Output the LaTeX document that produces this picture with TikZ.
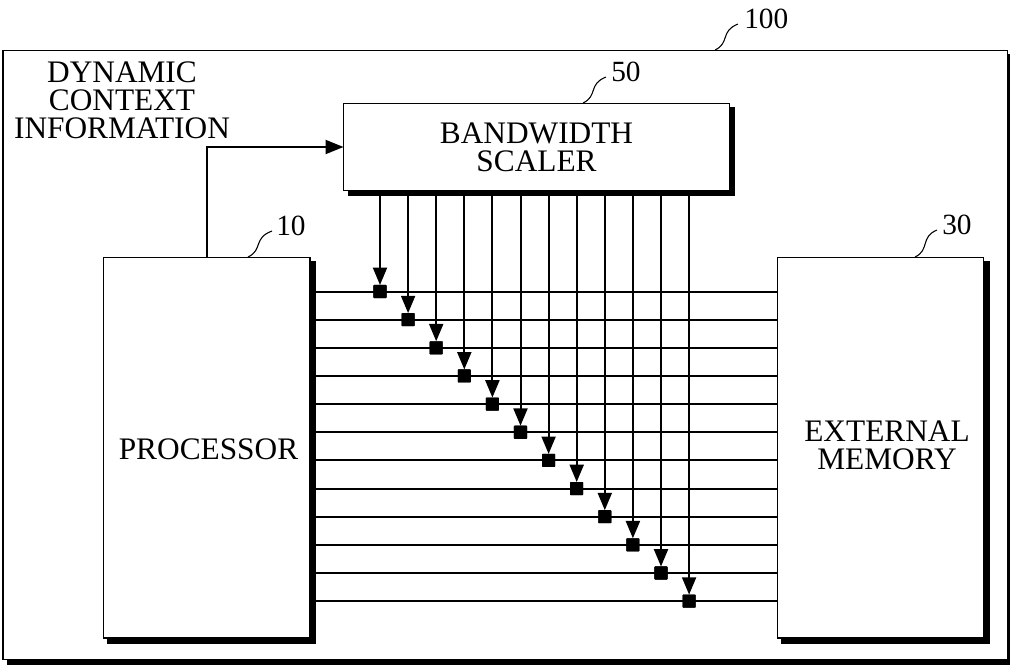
\documentclass[tikz,border=0pt]{standalone}
\usepackage{fontspec}
\setmainfont{Liberation Serif}
\usetikzlibrary{arrows.meta}
\tikzset{
  x=0.75pt,y=-0.75pt,
  boxed/.style={draw=black,line width=1.4pt,fill=white,inner sep=0pt,outer sep=0pt,anchor=north west,align=center},
  lbl/.style={font=\fontsize{23.5}{21}\selectfont,align=center,inner sep=0pt},
  reflbl/.style={font=\fontsize{22}{22}\selectfont,inner sep=0pt,anchor=west},
  leader/.style={line width=0.8pt},
  wire/.style={line width=1.5pt},
  ctl/.style={line width=1.5pt,-{Triangle[length=13pt,width=10.5pt]}},
  junction/.style={fill=black,minimum size=9.8pt,inner sep=0pt,outer sep=0pt,rounded corners=0.5pt},
}
\begin{document}
\begin{tikzpicture}
\useasboundingbox (0,0) rectangle (1010,665);
% outer box
\fill (6.5,54) rectangle (1010,665);
\node[boxed,minimum width=1004.5*0.75pt,minimum height=609*0.75pt] (sys) at (3,50.5) {};
% bandwidth scaler
\fill (348,107) rectangle (735,196);
\node[boxed,minimum width=386*0.75pt,minimum height=87*0.75pt] (bw) at (343.5,103.5) {};
\node[lbl] (bwt) at (536.5,147.5) {BANDWIDTH\\SCALER};
% processor
\fill (107,261) rectangle (315.5,644);
\node[boxed,minimum width=206.5*0.75pt,minimum height=380.5*0.75pt] (proc) at (103.5,257.5) {};
\node[lbl] (proct) at (208.5,449) {PROCESSOR};
% memory
\fill (781,261) rectangle (989.5,644);
\node[boxed,minimum width=206*0.75pt,minimum height=380.5*0.75pt] (mem) at (777.5,257.5) {};
\node[lbl] (memt) at (887,445.5) {EXTERNAL\\MEMORY};
% dynamic context label
\node[lbl] (dyn) at (122,100.5) {DYNAMIC\\CONTEXT\\INFORMATION};
% feedback arrow
\draw[wire,-{Triangle[length=13.5pt,width=10.5pt]}] (proc.north) |- (bw.west);
% wires, junctions and control arrows
\foreach \i in {0,...,11}{
  \pgfmathsetmacro{\yy}{291.5+28.15*\i}
  \pgfmathsetmacro{\xx}{380+28.1*\i}
  \node[junction] (j\i) at (\xx,\yy) {};
  \draw[wire] (proc.east |- j\i) -- (mem.west |- j\i);
  \draw[ctl] (bw.south -| j\i) -- (j\i.north);
  \node[junction] at (\xx,\yy) {};
}
% reference leaders
\node[reflbl] (r100) at (744,19) {100};
\coordinate (a100) at (715,50);
\draw[leader] (a100) .. controls (730,43) and (720,31) .. (738,24);
\node[reflbl] (r50) at (611,72) {50};
\coordinate (a50) at (583,103);
\draw[leader] (a50) .. controls (598,96) and (588,84) .. (606,77);
\node[reflbl] (r10) at (276,226) {10};
\coordinate (a10) at (248,257);
\draw[leader] (a10) .. controls (263,250) and (253,238) .. (272,231);
\node[reflbl] (r30) at (942,225) {30};
\coordinate (a30) at (915,257);
\draw[leader] (a30) .. controls (930,250) and (920,237) .. (937,230);
\end{tikzpicture}
\end{document}
